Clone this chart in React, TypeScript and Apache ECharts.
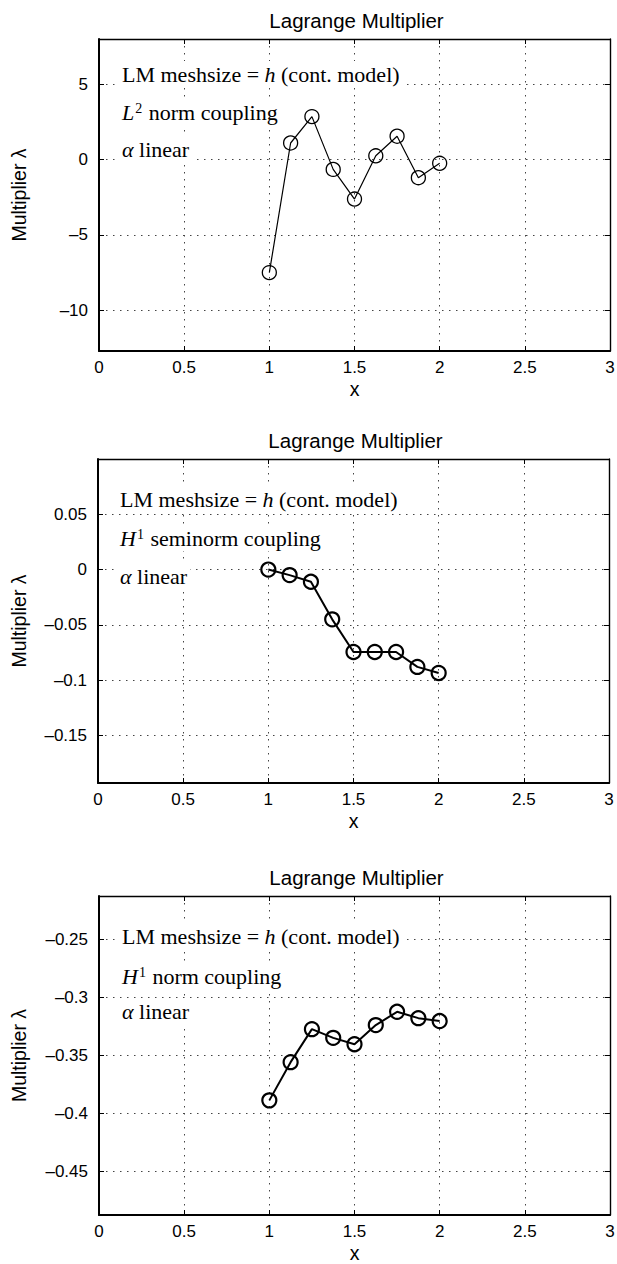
import React, { useEffect, useRef } from "react";
import * as echarts from "echarts";

// ---------- data ----------
const xValues = [1, 1.125, 1.25, 1.375, 1.5, 1.625, 1.75, 1.875, 2];
const lambdaL2 = [-7.5, 1.1, 2.85, -0.65, -2.62, 0.25, 1.55, -1.2, -0.25];
const lambdaH1Semi = [0, -0.005, -0.011, -0.045, -0.0745, -0.0745, -0.0745, -0.088, -0.0935];
const lambdaH1 = [-0.389, -0.356, -0.3275, -0.335, -0.3405, -0.324, -0.3125, -0.318, -0.3205];

const xTicks = [0, 0.5, 1, 1.5, 2, 2.5, 3];
const yTicksL2 = [-10, -5, 0, 5];
const yTicksH1Semi = [-0.15, -0.1, -0.05, 0, 0.05];
const yTicksH1 = [-0.45, -0.4, -0.35, -0.3, -0.25];

const yRangeL2 = [-12.7, 8];
const yRangeH1Semi = [-0.193, 0.1];
const yRangeH1 = [-0.488, -0.2125];

const titleText = "Lagrange Multiplier";
const xLabelText = "x";
const yLabelText = "Multiplier λ";
const meshLine = ["LM meshsize = ", "h", " (cont. model)"];
const couplingLetters = ["L", "H", "H"];
const couplingPowers = ["2", "1", "1"];
const couplingRest = [" norm coupling", " seminorm coupling", " norm coupling"];
const alphaLine = ["α", " linear"];

// ---------- layout ----------
const layouts = [
  { left: 99, top: 39, width: 511, height: 312, lineWidth: 1.2, borderWidth: 1.3, symbolSize: 14, textX: 119, textY: [74, 112, 149] },
  { left: 98, top: 459, width: 511, height: 324, lineWidth: 2, borderWidth: 2.2, symbolSize: 14, textX: 117, textY: [499, 538, 576] },
  { left: 99, top: 896, width: 511, height: 319, lineWidth: 2, borderWidth: 2.2, symbolSize: 14, textX: 119, textY: [936, 976, 1011] },
];

const SANS = "'Liberation Sans', Arial, Helvetica, sans-serif";
const SERIF = "'Liberation Serif', 'Times New Roman', Times, serif";

function fmt(v: number) {
  const s = String(Number(v.toFixed(6)));
  return s.replace("-", "\u2013");
}

export default function App() {
  const ref = useRef<HTMLDivElement>(null);

  useEffect(() => {
    document.body.style.margin = "0";
    if (!ref.current) return;
    const chart = echarts.init(ref.current, undefined, { renderer: "svg" });

    const panelData = [lambdaL2, lambdaH1Semi, lambdaH1];
    const panelTicks = [yTicksL2, yTicksH1Semi, yTicksH1];
    const panelRange = [yRangeL2, yRangeH1Semi, yRangeH1];

    const grids: any[] = [];
    const xAxes: any[] = [];
    const yAxes: any[] = [];
    const series: any[] = [];
    const elements: any[] = [];

    const gridLine = { show: true, lineStyle: { type: [1.5, 5.5], color: "#444", width: 1 } };

    layouts.forEach((l, i) => {
      grids.push({ left: l.left, top: l.top, width: l.width, height: l.height, containLabel: false, outerBoundsMode: "none" });
      const xBase = {
        gridIndex: i,
        type: "value",
        min: xTicks[0],
        max: xTicks[xTicks.length - 1],
        interval: xTicks[1] - xTicks[0],
      };
      xAxes.push({
        ...xBase,
        position: "bottom",
        axisLine: { show: true, onZero: false, lineStyle: { color: "#000", width: 2 } },
        axisTick: { show: true, inside: true, length: 5, lineStyle: { color: "#000", width: 1 } },
        axisLabel: { show: true, margin: 8, color: "#000", fontFamily: SANS, fontSize: 17, formatter: (v: number) => fmt(v) },
        splitLine: gridLine,
      });
      xAxes.push({
        ...xBase,
        position: "top",
        axisLine: { show: true, onZero: false, lineStyle: { color: "#000", width: 1.4 } },
        axisTick: { show: true, inside: true, length: 5, lineStyle: { color: "#000", width: 1 } },
        axisLabel: { show: false },
        splitLine: { show: false },
      });
      const r = panelRange[i];
      const t = panelTicks[i];
      const yBase = { gridIndex: i, type: "value", min: r[0], max: r[1], scale: true };
      yAxes.push({
        ...yBase,
        position: "left",
        axisLine: { show: true, onZero: false, lineStyle: { color: "#000", width: 2 } },
        axisTick: { show: true, inside: true, length: 5, customValues: t, lineStyle: { color: "#000", width: 1 } },
        axisLabel: { show: true, customValues: t, margin: 11, color: "#000", fontFamily: SANS, fontSize: 17, formatter: (v: number) => fmt(v) },
        splitLine: gridLine,
      });
      yAxes.push({
        ...yBase,
        position: "right",
        axisLine: { show: true, onZero: false, lineStyle: { color: "#000", width: 1.4 } },
        axisTick: { show: true, inside: true, length: 5, customValues: t, lineStyle: { color: "#000", width: 1 } },
        axisLabel: { show: false },
        splitLine: { show: false },
      });

      series.push({
        type: "line",
        xAxisIndex: 2 * i,
        yAxisIndex: 2 * i,
        data: xValues.map((x, j) => [x, panelData[i][j]]),
        symbol: "circle",
        symbolSize: l.symbolSize,
        showSymbol: true,
        showAllSymbol: true,
        lineStyle: { color: "#000", width: l.lineWidth },
        itemStyle: { color: "rgba(0,0,0,0)", borderColor: "#000", borderWidth: l.borderWidth },
        emphasis: { disabled: true },
        silent: true,
        z: 5,
      });

      // title
      elements.push({
        type: "text",
        x: l.left + l.width / 2 + 2,
        y: l.top - 19,
        style: { text: titleText, fontFamily: SANS, fontSize: 20.5, fill: "#000", align: "center", verticalAlign: "middle", textAlign: "center", textVerticalAlign: "middle" },
      });
      // x label
      elements.push({
        type: "text",
        x: l.left + l.width / 2,
        y: l.top + l.height + 38,
        style: { text: xLabelText, fontFamily: SANS, fontSize: 19.5, fill: "#000", align: "center", verticalAlign: "middle", textAlign: "center", textVerticalAlign: "middle" },
      });
      // y label
      elements.push({
        type: "text",
        x: 19,
        y: l.top + l.height / 2,
        rotation: Math.PI / 2,
        style: { text: yLabelText, fontFamily: SANS, fontSize: 19.5, fill: "#000", align: "center", verticalAlign: "middle", textAlign: "center", textVerticalAlign: "middle" },
      });

      const rich = {
        n: { fontFamily: SERIF, fontSize: 22, fill: "#000", color: "#000" },
        it: { fontFamily: SERIF, fontSize: 22, fontStyle: "italic", fill: "#000", color: "#000" },
        sup: { fontFamily: SERIF, fontSize: 14, fill: "#000", color: "#000", verticalAlign: "top", padding: [0, 1, 0, 1] },
      };
      const lines = [
        `{n|${meshLine[0]}}{it|${meshLine[1]}}{n|${meshLine[2]}}`,
        `{it|${couplingLetters[i]}}{sup|${couplingPowers[i]}}{n|${couplingRest[i]}}`,
        `{it|${alphaLine[0]}}{n|${alphaLine[1]}}`,
      ];
      lines.forEach((txt, k) => {
        elements.push({
          type: "text",
          x: l.textX,
          y: l.textY[k],
          z: 10,
          style: {
            text: txt,
            rich,
            fontFamily: SERIF,
            fontSize: 22,
            fill: "#000",
            backgroundColor: "#fff",
            padding: [2, 3, 2, 3],
            align: "left",
            verticalAlign: "middle",
            textAlign: "left",
            textVerticalAlign: "middle",
          },
        });
      });
    });

    chart.setOption({
      animation: false,
      backgroundColor: "#fff",
      grid: grids,
      xAxis: xAxes,
      yAxis: yAxes,
      series,
      graphic: { elements },
    });

    return () => chart.dispose();
  }, []);

  return <div ref={ref} style={{ width: 617, height: 1264 }} />;
}
